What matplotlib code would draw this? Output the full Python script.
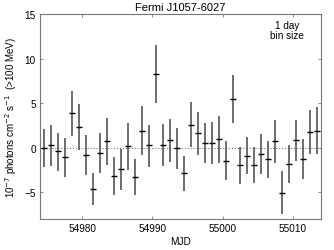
import matplotlib
matplotlib.use("Agg")
import matplotlib.pyplot as plt
import numpy as np

plt.rcParams['font.family'] = ['Liberation Sans', 'DejaVu Sans']

mjd = [54974.5 + i for i in range(40)]
flux = [0.0, 0.26, -0.4, -1.04, 3.88, 2.31, -0.78, -4.59, -0.56, 0.75,
        -3.17, -2.42, 0.15, -3.24, 1.9, 0.26, 8.28, 0.34, 0.82, -0.04,
        -2.87, 2.6, 1.64, 0.52, 0.52, 0.97, -1.45, 5.44, -1.98, -0.9,
        -1.98, -0.71, -1.23, 0.71, -5.03, -1.83, 0.82, -1.23, 1.82, 1.94]
upper = [2.1, 2.57, 1.68, 1.15, 6.38, 4.88, 1.45, -2.8, 1.68, 3.3,
         -1.04, -0.1, 2.76, -1.23, 4.66, 2.57, 11.5, 2.68, 3.24, 2.24,
         -0.97, 5.1, 4.06, 2.76, 2.87, 3.6, 0.71, 8.17, 0.07, 1.19,
         0.07, 1.57, 0.78, 3.13, -2.6, 0.34, 3.13, 0.97, 4.25, 4.55]
lower = [-2.2, -2.0, -2.6, -3.24, 1.27, -0.3, -3.1, -6.45, -2.87, -1.9,
         -5.3, -4.77, -2.53, -5.3, -0.86, -2.2, 5.03, -2.05, -1.6, -2.35,
         -4.8, 0.07, -0.78, -1.7, -1.79, -1.7, -3.58, 2.76, -4.03, -2.98,
         -3.95, -2.94, -3.36, -1.7, -7.46, -3.95, -1.53, -3.47, -0.67, -0.75]

xticks = [54980, 54990, 55000, 55010]
yticks = [-5, 0, 5, 10, 15]

fig = plt.figure(figsize=(3.34, 2.51), dpi=100)
ax = fig.add_axes([0.12, 0.123, 0.841, 0.817])

ax.axhline(0, color='#777777', linestyle=':', linewidth=0.8, zorder=1)
ax.vlines(mjd, lower, upper, color='#555555', linewidth=1.2, zorder=2)
ax.plot(mjd, flux, linestyle='none', marker='_', markersize=4,
        markeredgewidth=1.0, color='black', zorder=3)

ax.set_xlim(54974, 55014)
ax.set_ylim(-8, 15)
ax.set_xticks(xticks)
ax.set_yticks(yticks)
ax.tick_params(direction='in', top=True, right=True, length=2.5,
               width=0.6, color='#777777', labelsize=7.2, pad=3)
for s in ax.spines.values():
    s.set_color('#777777')
    s.set_linewidth(0.8)

ax.set_title('Fermi J1057-6027', fontsize=8, pad=3)
ax.set_xlabel('MJD', fontsize=7.2, labelpad=2)
ax.set_ylabel(r'10$^{-7}$ photons cm$^{-2}$ s$^{-1}$  (>100 MeV)', fontsize=7, labelpad=4)
ax.text(0.88, 0.97, '1 day\nbin size', transform=ax.transAxes,
        ha='center', va='top', fontsize=7.2, linespacing=1.0)

fig.savefig('out.png', dpi=100)
